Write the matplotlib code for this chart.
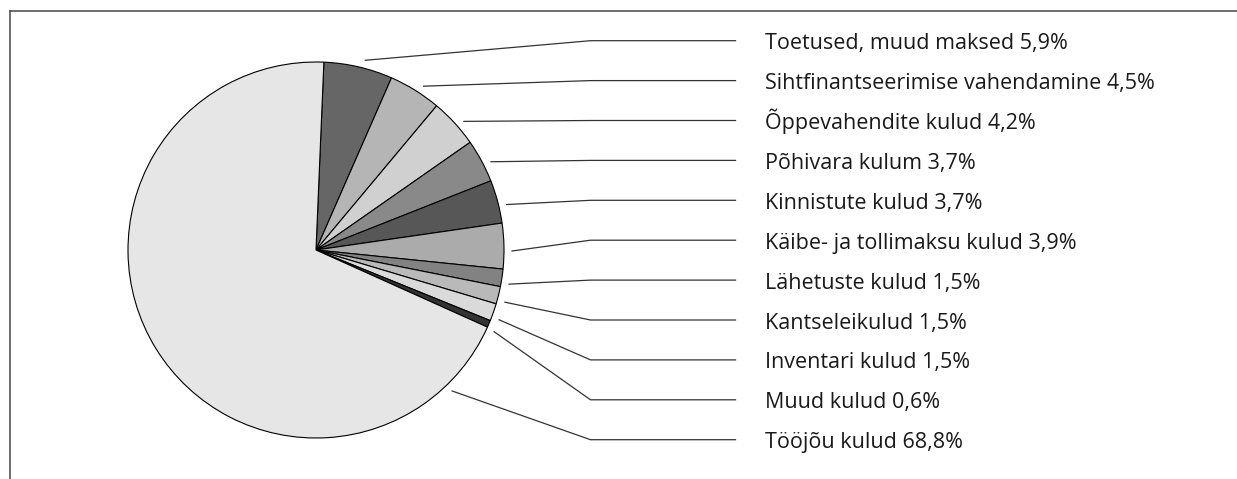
import numpy as np
import matplotlib
matplotlib.use('Agg')
import matplotlib.pyplot as plt

labels = ['Toetused, muud maksed', 'Sihtfinantseerimise vahendamine', 'Õppevahendite kulud',
          'Põhivara kulum', 'Kinnistute kulud', 'Käibe- ja tollimaksu kulud', 'Lähetuste kulud',
          'Kantseleikulud', 'Inventari kulud', 'Muud kulud', 'Tööjõu kulud']
shares = [5.9, 4.5, 4.2, 3.7, 3.7, 3.9, 1.5, 1.5, 1.5, 0.6, 68.8]
colors = ['#666666', '#b5b5b5', '#d0d0d0', '#898989', '#575757', '#ababab',
          '#828282', '#b9b9b9', '#dadada', '#333333', '#e6e6e6']

W, H = 1237, 479
fig = plt.figure(figsize=(W / 100, H / 100), dpi=100)
ax = fig.add_axes([0, 0, 1, 1])

cx, cy, r = 316, H - 250, 188
wedges, _ = ax.pie(shares, colors=colors, startangle=87.6, counterclock=False,
                   center=(cx, cy), radius=r, frame=True,
                   wedgeprops=dict(edgecolor='black', linewidth=0.8))
ax.set_xlim(0, W)
ax.set_ylim(0, H)
ax.set_aspect('equal')
ax.axis('off')

# frame (top + left only)
ax.plot([9.5, W], [H - 11, H - 11], color='#555555', lw=1.2, clip_on=False)
ax.plot([9.5, 9.5], [H - 11, 0], color='#555555', lw=1.2, clip_on=False)

# leaders + labels
for i, (w, lab, s) in enumerate(zip(wedges, labels, shares)):
    mid = (w.theta1 + w.theta2) / 2 - 1.5
    if i == len(labels) - 1:
        mid = -46
    a = np.deg2rad(mid)
    x0 = cx + 196 * np.cos(a)
    y0 = cy + 196 * np.sin(a)
    ly = H - (40.7 + i * 39.9)
    ax.plot([x0, 590.5, 735.5], [y0, ly, ly], color='#333333', lw=0.9)
    ax.text(765, ly - 8.5, f'{lab} {str(s).replace(".", ",")}%', fontsize=15.5,
            family='Open Sans', va='baseline', ha='left', color='#1a1a1a')

fig.savefig('out.png', dpi=100)
